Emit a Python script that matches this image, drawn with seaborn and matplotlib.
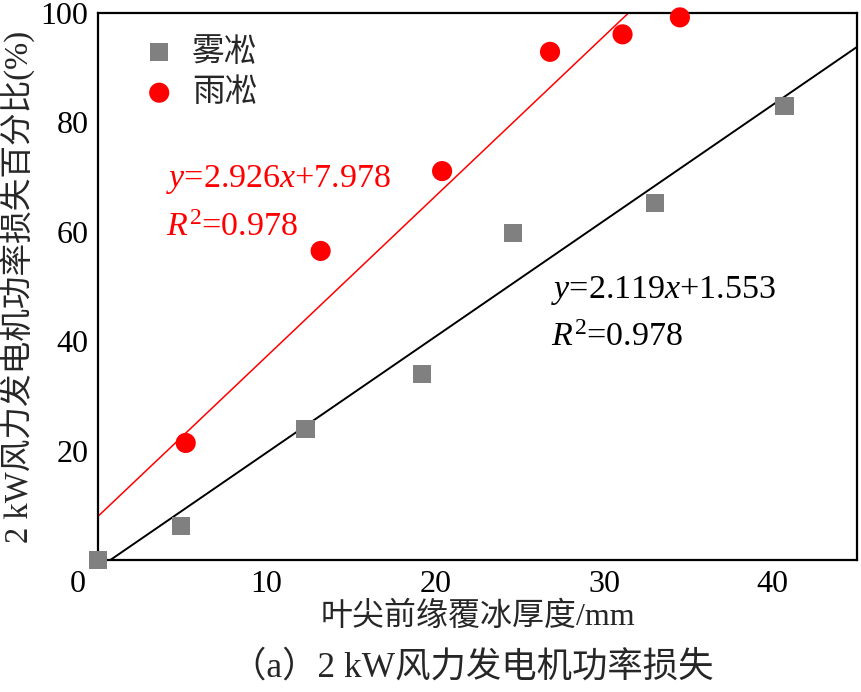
import numpy as np
import pandas as pd
import matplotlib
matplotlib.use("Agg")
import matplotlib.pyplot as plt
import matplotlib.transforms as mtransforms
import seaborn as sns

# ---- data ----
rime_x = [0.0, 4.9, 12.3, 19.2, 24.6, 33.0, 40.7]
rime_y = [0.0, 6.2, 23.9, 34.0, 59.8, 65.3, 83.0]
glaze_x = [5.2, 13.2, 20.4, 26.8, 31.1, 34.5]
glaze_y = [21.4, 56.5, 71.1, 92.9, 96.1, 99.2]
rime_fit = (2.119, -1.553)   # slope, intercept as drawn
glaze_fit = (2.926, 7.978)
series_names = ["雾凇", "雨凇"]
x_ticks = [0, 10, 20, 30, 40]
y_ticks = [20, 40, 60, 80, 100]
xlabel = "叶尖前缘覆冰厚度/mm"
ylabel = "2 kW风力发电机功率损失百分比(%)"
caption = "（a）2 kW风力发电机功率损失"

sns.set_theme(style="white")
plt.rcParams['font.family'] = ['Liberation Serif', 'Noto Sans CJK SC']
plt.rcParams['mathtext.fontset'] = 'custom'
plt.rcParams['mathtext.rm'] = 'Liberation Serif'
plt.rcParams['mathtext.it'] = 'Liberation Serif:italic'
plt.rcParams['axes.unicode_minus'] = False

fig = plt.figure(figsize=(8.61, 6.92), dpi=100)
ax = fig.add_axes([98/861, (692-560)/692, (857-98)/861, (560-13)/692])

xs = np.array([0.0, 45.0])
sns.lineplot(x=xs, y=rime_fit[0]*xs + rime_fit[1], color="black", lw=1.4, ax=ax)
sns.lineplot(x=xs, y=glaze_fit[0]*xs + glaze_fit[1], color="#ff0000", lw=1.1, ax=ax)

sns.scatterplot(x=rime_x, y=rime_y, marker="s", s=170, color="#808080",
                edgecolor="none", linewidth=0, label=series_names[0], ax=ax, zorder=3)
sns.scatterplot(x=glaze_x, y=glaze_y, marker="o", s=210, color="#ff0000",
                edgecolor="none", linewidth=0, label=series_names[1], ax=ax, zorder=3)
for coll in ax.collections:
    coll.set_clip_on(False)

ax.set_xlim(0, 45)
ax.set_ylim(0, 100)
ax.set_xticks(x_ticks)
ax.set_yticks(y_ticks)
ax.set_xticklabels([str(t) for t in x_ticks])
ax.set_yticklabels([str(t) for t in y_ticks])
ax.tick_params(direction="in", length=10, width=1.3, labelsize=23, colors="black",
               top=False, right=False, pad=7)
# shift the shared origin label "0" left
lbl0 = ax.get_xticklabels()[0]
lbl0.set_transform(lbl0.get_transform() + mtransforms.ScaledTranslation(-20/100, 0, fig.dpi_scale_trans))

for sp in ax.spines.values():
    sp.set_visible(True)
    sp.set_color("black")
    sp.set_linewidth(1.6)

ax.set_xlabel(xlabel, fontsize=23, labelpad=2)
ax.set_ylabel(ylabel, fontsize=23.5, labelpad=4)

leg = ax.legend(loc="upper left", bbox_to_anchor=(0.014, 1.0), frameon=False,
                fontsize=23.5, handletextpad=0.2, labelspacing=0.3, borderaxespad=0.0,
                borderpad=0.75, markerscale=1.0, handlelength=1.6)

ax.text(0.09, 0.695, r"$\mathit{y}$=2.926$\mathit{x}$+7.978", transform=ax.transAxes,
        color="#ff0000", fontsize=24.5, va="center", ha="left")
ax.text(0.09, 0.607, r"$\mathit{R}^{2}$=0.978", transform=ax.transAxes,
        color="#ff0000", fontsize=24.5, va="center", ha="left")
ax.text(0.597, 0.493, r"$\mathit{y}$=2.119$\mathit{x}$+1.553", transform=ax.transAxes,
        color="black", fontsize=24.5, va="center", ha="left")
ax.text(0.597, 0.407, r"$\mathit{R}^{2}$=0.978", transform=ax.transAxes,
        color="black", fontsize=24.5, va="center", ha="left")

fig.text(472/861, 1 - 668/692, caption, fontsize=25.5, ha="center", va="center")

fig.savefig("out.png", dpi=100)
